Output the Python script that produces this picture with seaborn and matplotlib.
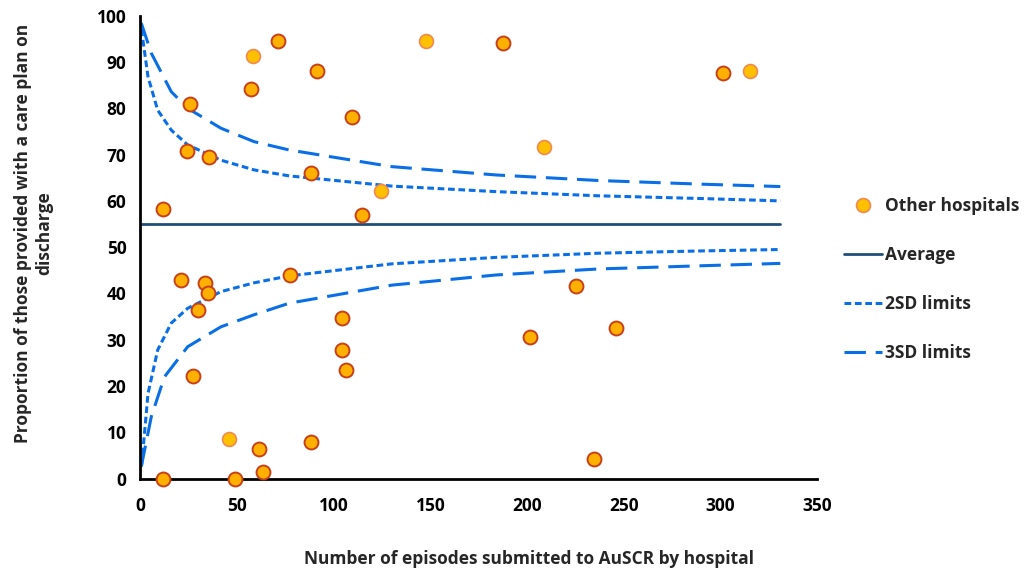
import numpy as np
import pandas as pd
import matplotlib
matplotlib.use('Agg')
import matplotlib.pyplot as plt
from matplotlib.lines import Line2D
import seaborn as sns

# hospitals: episodes submitted vs proportion with care plan (%)
episodes = [11.9, 11.9, 25.8, 24.0, 35.7, 58.1, 71.2, 57.1, 91.5, 109.3,
            88.1, 114.4, 124.4, 147.5, 187.6, 208.8, 301.3, 315.1,
            21.0, 33.4, 35.1, 30.0, 27.1, 77.5, 104.1, 104.1, 106.3,
            46.0, 61.2, 63.3, 49.1, 88.1, 201.4, 225.5, 245.8, 234.6]
proportion = [0.0, 58.3, 80.9, 70.8, 69.5, 91.4, 94.5, 84.2, 88.1, 78.1,
              66.1, 57.0, 62.1, 94.6, 94.2, 71.7, 87.7, 88.0,
              42.9, 42.3, 40.0, 36.5, 22.1, 44.1, 34.6, 27.9, 23.5,
              8.6, 6.4, 1.5, 0.0, 7.9, 30.7, 41.7, 32.5, 4.2]
# points drawn in the lighter tone
light_idx = [5, 12, 13, 15, 17, 27]

avg_x = [0, 331]
avg_y = [55, 55]

# control limits
up3_x = [0.5, 5.7, 16, 24.5, 41.7, 58.8, 77, 130, 184, 237, 291, 331]
up3_y = [98.4, 91.9, 83.6, 80.0, 75.7, 72.8, 71.0, 67.4, 65.6, 64.4, 63.6, 63.1]
up2_x = [0.6, 4, 9, 16, 24.5, 41.7, 58.8, 77, 130, 184, 237, 291, 331]
up2_y = [97.0, 86.8, 79.6, 75.3, 72.1, 68.8, 66.7, 65.4, 63.2, 62.0, 61.1, 60.5, 60.0]
lo2_x = [0.7, 1.4, 4, 9, 16, 24.5, 41.7, 58.8, 77, 130, 184, 237, 291, 331]
lo2_y = [3.0, 6.2, 18.4, 27.8, 33.6, 36.8, 40.4, 42.3, 43.8, 46.4, 47.8, 48.7, 49.2, 49.5]
lo3_x = [0.5, 5.7, 12.5, 24.5, 41.7, 58.8, 77, 130, 184, 237, 291, 331]
lo3_y = [2.6, 13.4, 22.0, 28.5, 32.8, 35.4, 37.9, 41.8, 44.0, 45.3, 46.0, 46.5]

sns.set_style('white')
plt.rcParams['font.family'] = ['Open Sans', 'DejaVu Sans']
plt.rcParams['font.weight'] = 'bold'
FS = 12.5

df = pd.DataFrame({'n': episodes, 'p': proportion})
df['light'] = False
df.loc[light_idx, 'light'] = True

fig = plt.figure(figsize=(10.27, 5.73), dpi=100)
ax = fig.add_axes([0.1366, 0.1646, 0.6590, 0.808])

blue = '#0A6FE6'
navy = '#1F4E79'
dash2 = (0, (2.2, 1.2))
dash3 = (0, (7.0, 3.2))

for xs, ys, ls in [(up2_x, up2_y, dash2), (lo2_x, lo2_y, dash2),
                   (up3_x, up3_y, dash3), (lo3_x, lo3_y, dash3)]:
    sns.lineplot(x=xs, y=ys, ax=ax, color=blue, linewidth=2.2, linestyle=ls,
                 sort=False, estimator=None, zorder=2)
sns.lineplot(x=avg_x, y=avg_y, ax=ax, color=navy, linewidth=2.0,
             estimator=None, zorder=2)

dark = df[~df['light']]
lite = df[df['light']]
sns.scatterplot(data=dark, x='n', y='p', ax=ax, s=100, color='#FFB000',
                edgecolor='#C8401A', linewidth=1.4, zorder=4, clip_on=False)
sns.scatterplot(data=lite, x='n', y='p', ax=ax, s=100, color='#FFC000',
                edgecolor='#F08A50', linewidth=1.2, zorder=4, clip_on=False)

ax.set_xlim(0, 350)
ax.set_ylim(0, 100)
ax.set_xticks(range(0, 351, 50))
ax.set_yticks(range(0, 101, 10))
ax.set_xlabel('')
ax.set_ylabel('')
for s in ['top', 'right']:
    ax.spines[s].set_visible(False)
for s in ['left', 'bottom']:
    ax.spines[s].set_color('black')
    ax.spines[s].set_linewidth(2.0)
ax.tick_params(axis='both', direction='out', length=4, width=1.5,
               labelsize=FS, colors='black', pad=6)
ax.tick_params(axis='x', pad=9)
for lab in ax.get_xticklabels() + ax.get_yticklabels():
    lab.set_fontweight('bold')

fig.text(0.515, 0.008, 'Number of episodes submitted to AuSCR by hospital',
         ha='center', va='bottom', fontsize=FS, fontweight='bold')
fig.text(0.033, 0.593, 'Proportion of those provided with a care plan on\ndischarge',
         rotation=90, ha='center', va='center', multialignment='center',
         fontsize=FS, fontweight='bold', linespacing=1.2)

handles = [
    Line2D([], [], marker='o', linestyle='none', markersize=10,
           markerfacecolor='#FFC000', markeredgecolor='#F08A50', markeredgewidth=1.2),
    Line2D([], [], color=navy, linewidth=2.0),
    Line2D([], [], color=blue, linewidth=2.2, linestyle=dash2),
    Line2D([], [], color=blue, linewidth=2.2, linestyle=dash3),
]
labels = ['Other hospitals', 'Average', '2SD limits', '3SD limits']
fig.legend(handles, labels, loc='upper left', bbox_to_anchor=(835 / 1027, 0.671),
           frameon=False, borderpad=0, labelspacing=1.78, handlelength=2.2,
           handletextpad=0.2, prop={'size': FS, 'weight': 'bold'})

fig.savefig('out.png', dpi=100)
